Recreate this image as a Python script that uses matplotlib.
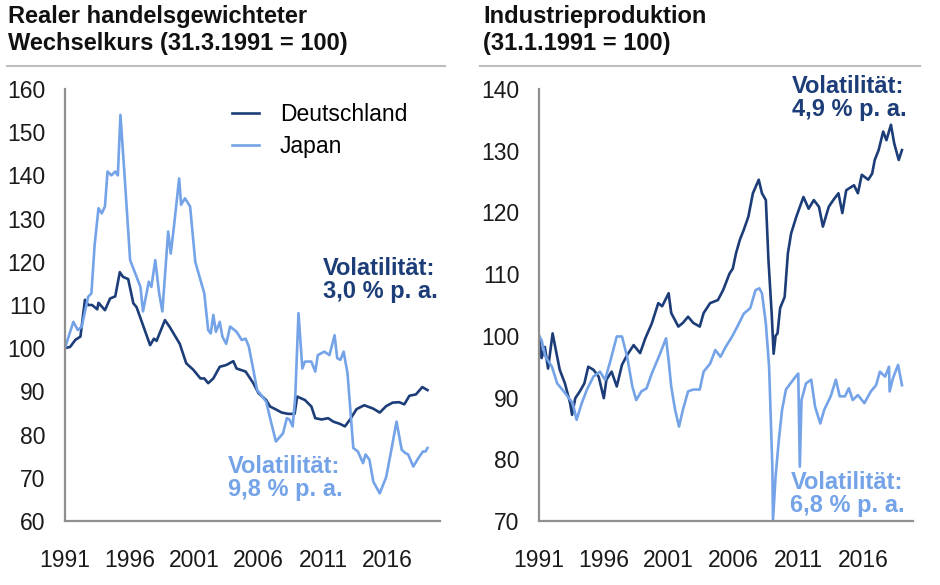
import matplotlib
matplotlib.use('Agg')
import matplotlib.pyplot as plt

plt.rcParams['font.family'] = ['Liberation Sans', 'DejaVu Sans']

DARK = '#1c3d78'
LIGHT = '#74a3e8'
GRAY = '#8f8f8f'

# Realer handelsgewichteter Wechselkurs
de_fx_years = [1991.0, 1991.4, 1991.8, 1992.2, 1992.55, 1992.8, 1993.1, 1993.5, 1993.6, 1994.1,
               1994.5, 1994.9, 1995.25, 1995.5, 1995.9, 1996.3, 1996.55, 1997.6, 1997.9, 1998.1,
               1998.75, 1999.1, 1999.9, 2000.4, 2000.95, 2001.5, 2001.8, 2002.1, 2002.5, 2003.0,
               2003.5, 2004.05, 2004.3, 2005.0, 2005.6, 2006.0, 2006.6, 2006.9, 2007.3, 2007.8,
               2008.3, 2008.8, 2009.0, 2009.6, 2010.1, 2010.4, 2010.9, 2011.4, 2011.8, 2012.3,
               2012.7, 2013.1, 2013.6, 2014.2, 2014.9, 2015.4, 2015.9, 2016.4, 2016.9, 2017.3,
               2017.7, 2018.2, 2018.7, 2019.1]
de_fx_values = [100, 100.3, 101.9, 102.7, 111.2, 110, 110, 109, 110.5, 108.8,
                111.5, 112, 117.6, 116.5, 116, 110.4, 109.5, 100.7, 102.2, 101.7,
                106.5, 105, 101, 96.5, 95, 93, 93, 91.9, 93, 95.7,
                96.1, 97, 95.3, 94.6, 91.9, 89.6, 88, 86.5, 85.9, 85.1,
                84.8, 84.8, 88.8, 88, 86.5, 83.8, 83.5, 83.8, 83, 82.5,
                81.9, 83.5, 85.9, 86.8, 86, 85.1, 86.6, 87.4, 87.5, 87,
                89, 89.3, 91, 90.3]

jp_fx_years = [1991.0, 1991.65, 1992.0, 1992.3, 1992.8, 1993.05, 1993.3, 1993.6, 1993.85, 1994.1,
               1994.3, 1994.6, 1994.9, 1995.1, 1995.3, 1995.6, 1996.05, 1996.45, 1996.85, 1997.05,
               1997.5, 1997.7, 1998.0, 1998.3, 1998.55, 1999.0, 1999.2, 1999.45, 1999.85, 2000.0,
               2000.3, 2000.7, 2001.1, 2001.5, 2001.8, 2002.1, 2002.3, 2002.5, 2002.7, 2003.0,
               2003.2, 2003.5, 2003.8, 2004.3, 2004.7, 2005.0, 2005.25, 2005.6, 2005.9, 2006.3,
               2006.6, 2006.9, 2007.35, 2007.7, 2007.9, 2008.2, 2008.4, 2008.65, 2008.85, 2009.1,
               2009.4, 2009.6, 2010.1, 2010.4, 2010.6, 2011.1, 2011.5, 2011.9, 2012.1, 2012.35,
               2012.6, 2012.9, 2013.35, 2013.7, 2014.1, 2014.3, 2014.6, 2014.9, 2015.4, 2015.9,
               2016.3, 2016.7, 2017.1, 2017.35, 2017.6, 2018.0, 2018.4, 2018.75, 2018.95, 2019.1]
jp_fx_values = [100, 106.1, 104.2, 105, 111.9, 112.7, 123.9, 132.4, 131.2, 132.8,
                140.9, 140, 140.9, 140, 154, 140.9, 120.4, 117.3, 114.2, 108.5,
                115.4, 114.2, 120.4, 112.7, 108.5, 127, 121.9, 128.2, 139.3, 133.2,
                134.7, 132.8, 120, 115.8, 112.7, 104.2, 103.4, 107.7, 103.8, 106.1,
                102.7, 101, 105, 103.8, 101.9, 102.2, 100.4, 95, 90.3, 88.8,
                87.6, 83.8, 78.4, 79.6, 80.3, 83.8, 83.5, 81.9, 88.8, 108.1,
                95.3, 96.9, 96.9, 94.6, 98.4, 99.2, 98.4, 103, 97.7, 97.3,
                99.2, 94.2, 76.9, 76.1, 73.4, 75.4, 74.2, 69.1, 66.4, 70.2,
                76.5, 83, 76.5, 75.8, 75.4, 72.6, 74.6, 76.1, 76.1, 76.9]

# Industrieproduktion
de_ip_years = [1991.0, 1991.2, 1991.45, 1991.7, 1992.05, 1992.3, 1992.6, 1993.0, 1993.4, 1993.55,
               1993.8, 1994.15, 1994.5, 1994.8, 1995.2, 1995.6, 1996.0, 1996.2, 1996.6, 1997.0,
               1997.4, 1997.8, 1998.3, 1998.8, 1999.2, 1999.7, 2000.2, 2000.5, 2001.0, 2001.2,
               2001.75, 2002.1, 2002.5, 2002.9, 2003.4, 2003.7, 2004.2, 2004.8, 2005.2, 2005.7,
               2005.95, 2006.2, 2006.5, 2006.8, 2007.15, 2007.5, 2007.95, 2008.2, 2008.5, 2008.7,
               2008.95, 2009.1, 2009.25, 2009.4, 2009.6, 2009.95, 2010.2, 2010.45, 2010.85, 2011.4,
               2011.8, 2012.2, 2012.6, 2012.9, 2013.35, 2013.7, 2014.1, 2014.4, 2014.7, 2015.3,
               2015.6, 2015.9, 2016.4, 2016.7, 2016.9, 2017.2, 2017.55, 2017.8, 2018.15, 2018.4,
               2018.75, 2019.0]
de_ip_values = [100, 96.4, 98.2, 94.7, 100.4, 97.7, 94.5, 92.3, 89.1, 87.2,
                89.9, 91, 92.3, 95, 94.5, 93.4, 89.9, 92.9, 94.2, 91.8,
                95.3, 96.9, 98.5, 97.2, 99.6, 102, 105.3, 104.8, 106.9, 103.7,
                101.5, 102.1, 103.1, 102.1, 101.5, 103.7, 105.3, 105.8, 107.4, 110.1,
                110.9, 113.4, 115.6, 117.2, 119.3, 123.1, 125.3, 123.1, 122, 112.3,
                103.6, 97.1, 100, 100.4, 104.5, 106.3, 113.4, 116.6, 119.3, 122.5,
                120.6, 122, 120.9, 117.7, 120.9, 122, 123.1, 119.9, 123.6, 124.4,
                123.1, 126.1, 125.3, 126.3, 128.5, 130.1, 133.1, 131.7, 134.2, 131.2,
                128.5, 130.1]

jp_ip_years = [1991.0, 1991.2, 1991.5, 1992.0, 1992.4, 1992.8, 1993.2, 1993.6, 1993.9, 1994.3,
               1994.7, 1995.2, 1995.7, 1996.1, 1996.5, 1997.0, 1997.4, 1997.8, 1998.2, 1998.5,
               1998.9, 1999.3, 1999.7, 2000.3, 2000.8, 2001.0, 2001.2, 2001.5, 2001.8, 2002.1,
               2002.5, 2002.9, 2003.4, 2003.7, 2004.2, 2004.6, 2005.0, 2005.4, 2005.9, 2006.3,
               2006.8, 2007.3, 2007.7, 2008.0, 2008.2, 2008.5, 2008.75, 2009.0, 2009.05, 2009.25,
               2009.5, 2009.75, 2010.05, 2010.4, 2010.8, 2011.0, 2011.12, 2011.25, 2011.6, 2012.0,
               2012.3, 2012.7, 2013.0, 2013.5, 2013.9, 2014.2, 2014.6, 2014.9, 2015.2, 2015.6,
               2016.1, 2016.6, 2017.0, 2017.3, 2017.7, 2018.0, 2018.05, 2018.3, 2018.7, 2019.0]
jp_ip_values = [100, 99.3, 96.6, 95, 92.3, 91.3, 90.2, 89.1, 86.4, 89.1,
                91.3, 93.4, 94.2, 92.9, 95.9, 99.9, 99.9, 96.6, 91.8, 89.6,
                91, 91.5, 93.9, 96.9, 99.6, 96, 91.8, 88, 85.3, 88,
                91, 91.3, 91.3, 94.2, 95.5, 97.7, 96.6, 98.2, 99.9, 101.5,
                103.6, 104.5, 107.4, 107.7, 106.9, 102, 95, 78.8, 70.1, 77.2,
                83.1, 88, 91.3, 92.3, 93.4, 93.9, 78.8, 89.6, 92.3, 92.9,
                88.5, 85.8, 88, 90.2, 92.9, 90.2, 90.2, 91.5, 89.6, 90.4,
                89.1, 91, 92, 94.2, 93.4, 95, 91, 93.1, 95.3, 92]

year_ticks = [1991, 1996, 2001, 2006, 2011, 2016]


def style_axis(ax, ymin, ymax, ystep, xmax):
    ax.set_xlim(1991, xmax)
    ax.set_ylim(ymin, ymax)
    ax.set_yticks(range(ymin, ymax + 1, ystep))
    ax.set_xticks(year_ticks)
    ax.spines['top'].set_visible(False)
    ax.spines['right'].set_visible(False)
    for s in ('left', 'bottom'):
        ax.spines[s].set_color(GRAY)
        ax.spines[s].set_linewidth(1.6)
    ax.tick_params(length=0, labelsize=16.5, colors='#1a1a1a')
    ax.tick_params(axis='y', pad=14)
    ax.tick_params(axis='x', pad=20)


fig = plt.figure(figsize=(9.4, 5.85), dpi=100)

ax1 = fig.add_axes([0.0691, 0.1094, 0.399, 0.7385])
ax1.plot(de_fx_years, de_fx_values, color=DARK, lw=1.9, label='Deutschland')
ax1.plot(jp_fx_years, jp_fx_values, color=LIGHT, lw=1.9, label='Japan')
style_axis(ax1, 60, 160, 10, 2020.07)
ax1.legend(loc='upper left', bbox_to_anchor=(0.39, 1.015), frameon=False, fontsize=16.5,
           handlelength=1.2, handletextpad=0.9, labelspacing=0.38)
ax1.text(2011.0, 121.2, 'Volatilität:\n3,0 % p. a.', color=DARK, fontsize=17,
         fontweight='bold', va='top', ha='left', linespacing=1.0)
ax1.text(2003.6, 75.2, 'Volatilität:\n9,8 % p. a.', color=LIGHT, fontsize=17,
         fontweight='bold', va='top', ha='left', linespacing=1.0)

ax2 = fig.add_axes([0.5734, 0.1094, 0.398, 0.7385])
ax2.plot(de_ip_years, de_ip_values, color=DARK, lw=1.9)
ax2.plot(jp_ip_years, jp_ip_values, color=LIGHT, lw=1.9)
style_axis(ax2, 70, 140, 10, 2019.86)
ax2.text(2010.5, 142.2, 'Volatilität:\n4,9 % p. a.', color=DARK, fontsize=17,
         fontweight='bold', va='top', ha='left', linespacing=1.0, clip_on=False)
ax2.text(2010.4, 78.1, 'Volatilität:\n6,8 % p. a.', color=LIGHT, fontsize=17,
         fontweight='bold', va='top', ha='left', linespacing=1.0)

# Titel und Trennlinien
fig.text(8 / 940, 1 - 5 / 585, 'Realer handelsgewichteter\nWechselkurs (31.3.1991 = 100)',
         fontsize=17, fontweight='bold', va='top', ha='left', color='#111111', linespacing=1.2)
fig.text(483 / 940, 1 - 5 / 585, 'Industrieproduktion\n(31.1.1991 = 100)',
         fontsize=17, fontweight='bold', va='top', ha='left', color='#111111', linespacing=1.2)
fig.add_artist(plt.Line2D([7 / 940, 445 / 940], [1 - 66 / 585] * 2, color='#bdbdbd', lw=1.5))
fig.add_artist(plt.Line2D([480 / 940, 920 / 940], [1 - 66 / 585] * 2, color='#bdbdbd', lw=1.5))

fig.savefig('out.png', dpi=100)
